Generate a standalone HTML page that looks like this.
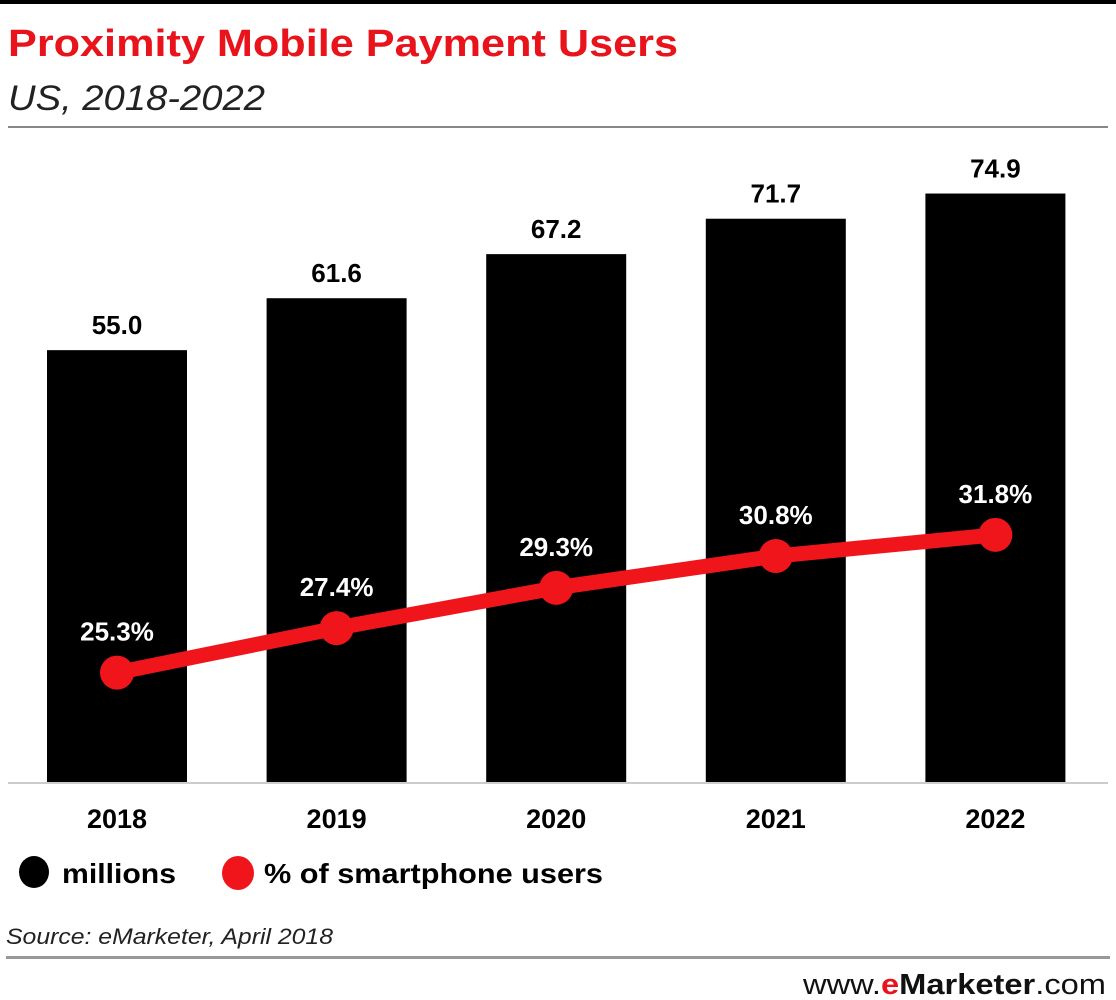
<!DOCTYPE html>
<html><head><meta charset="utf-8">
<style>
html,body{margin:0;padding:0;background:#fff;}
body{width:1116px;height:1000px;overflow:hidden;position:relative;font-family:"Liberation Sans",sans-serif;}
svg{position:absolute;left:0;top:0;}
</style></head>
<body>
<svg id="chart" width="1116" height="1000">
  <rect x="0" y="0" width="1116" height="4" fill="#000"/>
  <text x="8" y="56" font-size="38" font-weight="bold" fill="#e8131b" textLength="670" lengthAdjust="spacingAndGlyphs">Proximity Mobile Payment Users</text>
  <text x="8" y="110" font-size="35" font-style="italic" fill="#222" textLength="257" lengthAdjust="spacingAndGlyphs">US, 2018-2022</text>
  <rect x="8" y="126" width="1100" height="2" fill="#888"/>
  <g id="bars"></g>
  <rect x="8" y="782" width="1100" height="2" fill="#ccc"/>
  <g id="line"></g>
  <g id="xlabels"></g>
  <g>
    <g>
      <ellipse cx="34" cy="872" rx="15" ry="16" fill="#000"/>
      <text x="62" y="883" font-size="28" font-weight="bold" fill="#000" textLength="114" lengthAdjust="spacingAndGlyphs">millions</text>
    </g>
    <g>
      <ellipse cx="238" cy="873" rx="16" ry="17" fill="#f0151b"/>
      <text x="264" y="883" font-size="28" font-weight="bold" fill="#000" textLength="339" lengthAdjust="spacingAndGlyphs">% of smartphone users</text>
    </g>
  </g>
  <text x="6" y="944" font-size="22" font-style="italic" fill="#222" textLength="327" lengthAdjust="spacingAndGlyphs">Source: eMarketer, April 2018</text>
  <rect x="6" y="956" width="1104" height="3" fill="#999"/>
  <text x="803" y="994" font-size="29" fill="#111" textLength="303" lengthAdjust="spacingAndGlyphs">www.<tspan fill="#e8131b" font-weight="bold">e</tspan><tspan font-weight="bold">Marketer</tspan>.com</text>
</svg>
<script>
const categories = ["2018","2019","2020","2021","2022"];
const millions = [55.0, 61.6, 67.2, 71.7, 74.9];
const pctUsers = [25.3, 27.4, 29.3, 30.8, 31.8];
const pctLabels = ["25.3%","27.4%","29.3%","30.8%","31.8%"];

const NS = "http://www.w3.org/2000/svg";
const x0 = 117, step = 219.6, barW = 140;
function xPos(i){ return x0 + i*step; }
function yBar(v){ return 783 - v*7.87; }
function yPct(v){ return 1209 - v*21.2; }
function mk(tag, attrs, parent){ const e=document.createElementNS(NS,tag); for(const k in attrs) e.setAttribute(k,attrs[k]); parent.appendChild(e); return e; }

const bars = document.getElementById('bars');
const xl = document.getElementById('xlabels');
categories.forEach((c,i)=>{
  const cx = xPos(i), top = yBar(millions[i]);
  const r = mk('rect',{x:cx-barW/2,y:top,width:barW,height:783-top,fill:'#000'},bars);
  
  
  const t = mk('text',{x:cx,y:top-16,'font-size':26,'font-weight':'bold','text-anchor':'middle',fill:'#000'},bars);
  t.textContent = millions[i].toFixed(1);
  
  
  const xt = mk('text',{x:cx,y:828,'font-size':27,'font-weight':'bold','text-anchor':'middle',fill:'#000'},xl);
  xt.textContent = c;
  
  
});

const lg = document.getElementById('line');
const pts = pctUsers.map((v,i)=>xPos(i)+','+yPct(v)).join(' ');
const pl = mk('polyline',{points:pts,fill:'none',stroke:'#f0151b','stroke-width':15,'stroke-linejoin':'round'},lg);


pctUsers.forEach((v,i)=>{
  const cx = xPos(i), cy = yPct(v);
  const c = mk('circle',{cx:cx,cy:cy,r:17,fill:'#f0151b'},lg);
  
  
  const t = mk('text',{x:cx,y:cy-32,'font-size':26,'font-weight':'bold','text-anchor':'middle',fill:'#fff'},lg);
  t.textContent = pctLabels[i];
  
  
});
</script>
</body></html>
